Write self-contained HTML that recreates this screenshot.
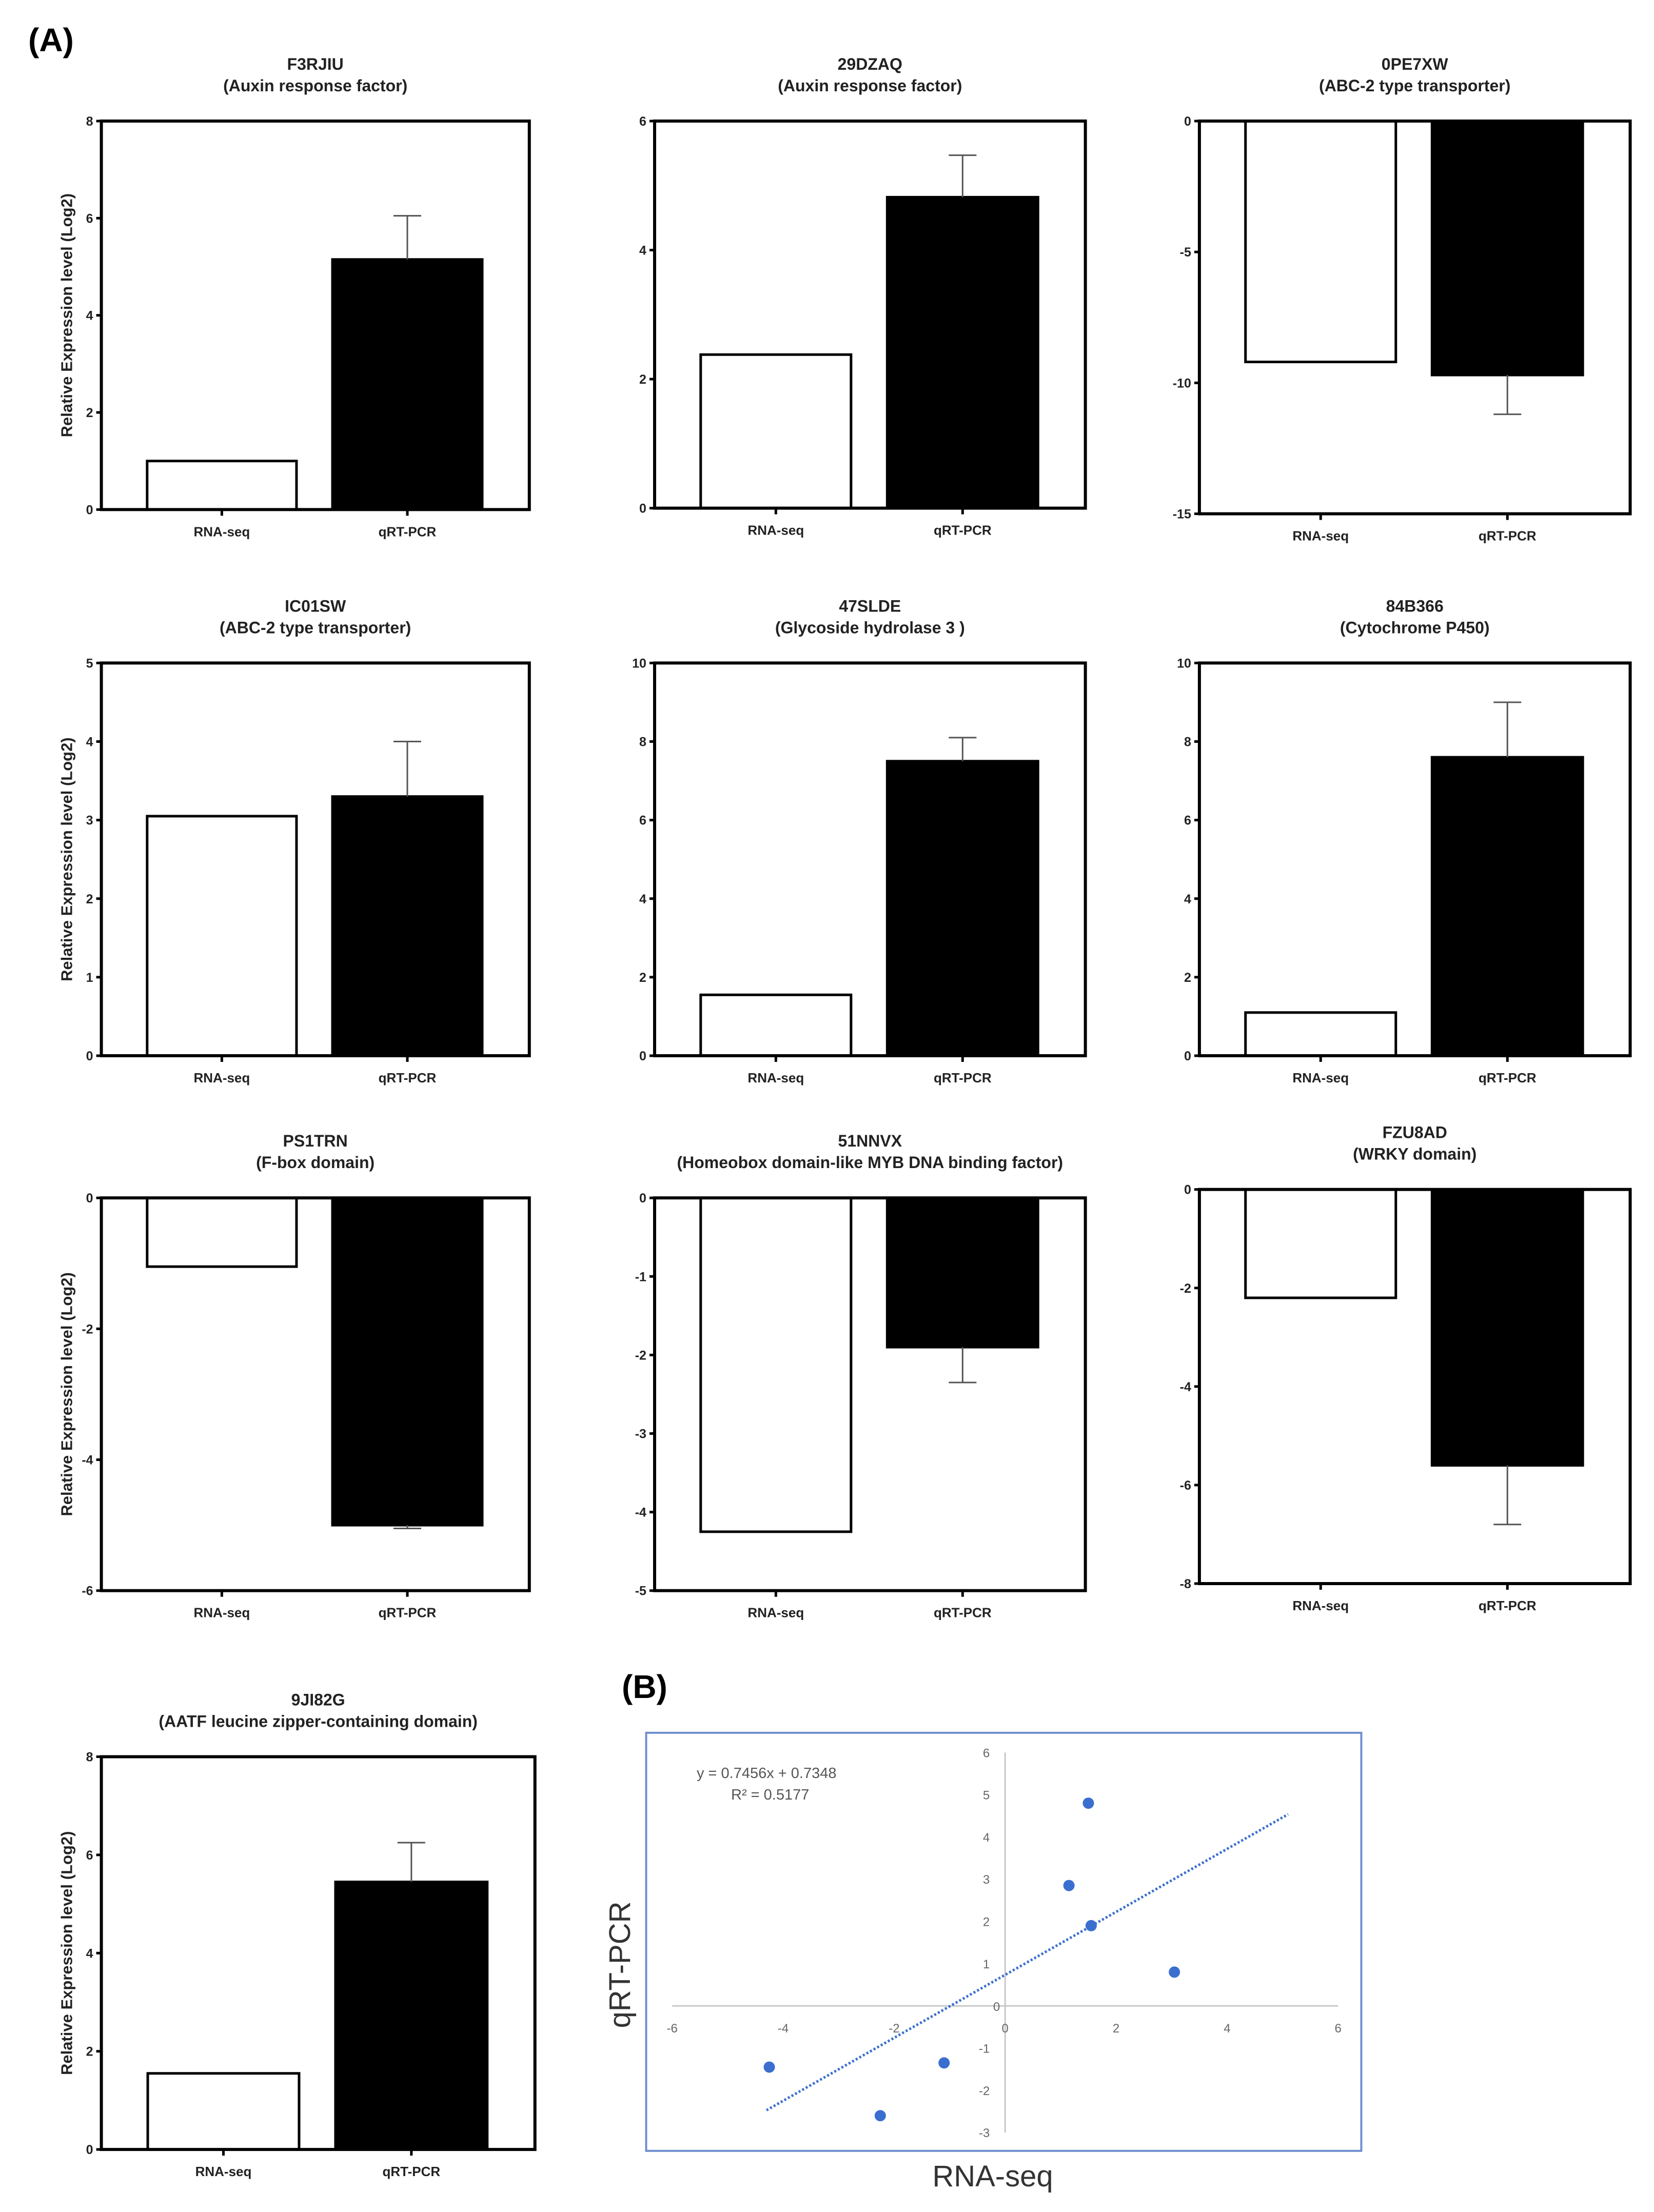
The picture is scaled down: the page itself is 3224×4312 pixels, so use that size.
<!DOCTYPE html>
<html><head><meta charset="utf-8"><style>
html,body{margin:0;padding:0;background:#fff;}
svg{display:block;font-family:"Liberation Sans",Arial,sans-serif;}
</style></head><body>
<svg id="fig" width="3224" height="4312" viewBox="0 0 3224 4312" xmlns="http://www.w3.org/2000/svg">
<rect width="3224" height="4312" fill="#fff"/>
<text x="55" y="100" font-size="64" font-weight="bold">(A)</text>
<text x="1212" y="3310" font-size="64" font-weight="bold">(B)</text>
<g id="bars"></g>
<g id="scatter"></g>
</svg>
<script>
const geneIds = ["F3RJIU","29DZAQ","0PE7XW","IC01SW","47SLDE","84B366","PS1TRN","51NNVX","FZU8AD","9JI82G"];
const geneDesc = ["(Auxin response factor)","(Auxin response factor)","(ABC-2 type transporter)","(ABC-2 type transporter)","(Glycoside hydrolase 3 )","(Cytochrome P450)","(F-box domain)","(Homeobox domain-like MYB  DNA binding factor)","(WRKY domain)","(AATF leucine zipper-containing domain)"];
const rnaSeq = [1.0, 2.38, -9.2, 3.05, 1.55, 1.1, -1.05, -4.25, -2.2, 1.55];
const qrtPcr = [5.15, 4.82, -9.7, 3.3, 7.5, 7.6, -5.0, -1.9, -5.6, 5.45];
const qrtErr = [0.9, 0.65, 1.5, 0.7, 0.6, 1.4, 0.05, 0.45, 1.2, 0.8];
const axisMin = [0, 0, -15, 0, 0, 0, -6, -5, -8, 0];
const axisMax = [8, 6, 0, 5, 10, 10, 0, 0, 0, 8];
const axisStep = [2, 2, 5, 1, 2, 2, 2, 1, 2, 2];
const categories = ["RNA-seq","qRT-PCR"];

const scatterX = [1.5, 1.15, 1.55, 3.05, -4.25, -1.1, -2.25];
const scatterY = [4.8, 2.85, 1.9, 0.8, -1.45, -1.35, -2.6];
const scatterXTicks = [-6,-4,-2,0,2,4,6];
const scatterYTicks = [-3,-2,-1,1,2,3,4,5,6];
const trendSlope = 0.7456, trendIntercept = 0.7348;
const trendRange = [-4.3, 5.1];

const NS = "http://www.w3.org/2000/svg";
function mk(tag, attrs, parent, txt){
  const e = document.createElementNS(NS, tag);
  for (const k in attrs) e.setAttribute(k, attrs[k]);
  if (txt !== undefined) e.textContent = txt;
  parent.appendChild(e); return e;
}
const S = 2.744;
const frames = [
 [72,86,376,362],[465,86,771,361],[852,86,1158,365],
 [72,471,376,750],[465,471,771,750],[852,471,1158,750],
 [72,851,376,1130],[465,851,771,1130],[852,845,1158,1125],
 [72,1248,380,1527]];
const barsG = document.getElementById('bars');
frames.forEach((f, i) => {
  const L=f[0]*S, T=f[1]*S, R=f[2]*S, B=f[3]*S, W=R-L, H=B-T;
  const g = mk('g', {}, barsG);
  
  
  const y = v => B - (v - axisMin[i]) / (axisMax[i] - axisMin[i]) * H;
  const cx = (L+R)/2;
  const t1 = mk('text', {x:cx, y:T-100, 'font-size':32, 'text-anchor':'middle', 'font-weight':'bold', fill:'#222'}, g, geneIds[i]);
  
  
  const t2 = mk('text', {x:cx, y:T-58, 'font-size':32, 'text-anchor':'middle', 'font-weight':'bold', fill:'#222'}, g, geneDesc[i]);
  
  
  // bars
  const vals = [rnaSeq[i], qrtPcr[i]];
  const x0s = [0.107, 0.54], x1s = [0.456, 0.89];
  const y0 = y(0);
  vals.forEach((v, k) => {
    const xa = L + x0s[k]*W, xb = L + x1s[k]*W;
    const ya = Math.min(y0, y(v)), yb = Math.max(y0, y(v));
    const r = mk('rect', {x:xa, y:ya, width:xb-xa, height:yb-ya, fill:k? '#000':'#fff', stroke:'#000', 'stroke-width':5}, g);
    
    
    const xl = mk('text', {x:(xa+xb)/2, y:B+52, 'font-size':26, 'text-anchor':'middle', 'font-weight':'bold', fill:'#222'}, g, categories[k]);
    
    
    mk('line', {x1:(xa+xb)/2, x2:(xa+xb)/2, y1:B, y2:B+12, stroke:'#000', 'stroke-width':5}, g);
  });
  // error bar
  const bc = L + (x0s[1]+x1s[1])/2*W;
  const sign = qrtPcr[i] >= 0 ? 1 : -1;
  const ye = y(qrtPcr[i] + sign*qrtErr[i]);
  const eb = mk('path', {d:`M${bc},${y(qrtPcr[i])}V${ye}M${bc-27},${ye}H${bc+27}`, stroke:'#555', 'stroke-width':3, fill:'none'}, g);
  
  
  // frame
  const fr = mk('rect', {x:L, y:T, width:W, height:H, fill:'none', stroke:'#000', 'stroke-width':6}, g);
  
  
  for (let v = axisMin[i]; v <= axisMax[i] + 1e-9; v += axisStep[i]) {
    mk('line', {x1:L-10, x2:L, y1:y(v), y2:y(v), stroke:'#000', 'stroke-width':5}, g);
    const tl = mk('text', {x:L-16, y:y(v)+9, 'font-size':25, 'text-anchor':'end', 'font-weight':'bold', fill:'#222'}, g, String(v));
    
    
  }
  if (i % 3 === 0) {
    const yl = mk('text', {x:0, y:0, 'font-size':31, 'text-anchor':'middle', 'font-weight':'bold', fill:'#222', transform:`translate(${L-57},${(T+B)/2}) rotate(-90)`}, g, 'Relative Expression level (Log2)');
    
    
  }
});

// scatter
const sg = document.getElementById('scatter');


const box = mk('rect', {x:459*S, y:1231*S, width:(967-459)*S, height:(1528-1231)*S, fill:'#fff', stroke:'#6f8fd0', 'stroke-width':4}, sg);


const X0 = 714*S, UX = 39.42*S, Y0 = 1425*S, UY = 30*S;
const sx = v => X0 + v*UX, sy = v => Y0 - v*UY;
mk('line', {x1:sx(-6), x2:sx(6), y1:sy(0), y2:sy(0), stroke:'#c8c8c8', 'stroke-width':3}, sg);
mk('line', {x1:sx(0), x2:sx(0), y1:sy(6), y2:sy(-3), stroke:'#c8c8c8', 'stroke-width':3}, sg);
scatterXTicks.forEach(v => {
  const t = mk('text', {x:sx(v), y:sy(0)+52, 'font-size':24, 'text-anchor':'middle', fill:'#666'}, sg, String(v));
  
  
});
mk('text', {x:sx(0)-10, y:sy(0)+10, 'font-size':24, 'text-anchor':'end', fill:'#666'}, sg, '0');
scatterYTicks.forEach(v => {
  const t = mk('text', {x:sx(0)-30, y:sy(v)+9, 'font-size':24, 'text-anchor':'end', fill:'#666'}, sg, String(v));
  
  
});
const tr = mk('line', {x1:sx(trendRange[0]), y1:sy(trendSlope*trendRange[0]+trendIntercept), x2:sx(trendRange[1]), y2:sy(trendSlope*trendRange[1]+trendIntercept), stroke:'#3a6fd0', 'stroke-width':5, 'stroke-dasharray':'4 4'}, sg);


scatterX.forEach((v, k) => {
  const c = mk('circle', {cx:sx(v), cy:sy(scatterY[k]), r:11, fill:'#3a6fd0'}, sg);
  
  
});
const eq = mk('text', {x:1358, y:3466, 'font-size':29, fill:'#555'}, sg, 'y = 0.7456x + 0.7348');


const r2 = mk('text', {x:1425, y:3508, 'font-size':29, fill:'#555'}, sg, 'R² = 0.5177');


const xt = mk('text', {x:1935, y:4262, 'font-size':58, 'text-anchor':'middle', fill:'#333'}, sg, 'RNA-seq');


const yt = mk('text', {x:0, y:0, 'font-size':58, 'text-anchor':'middle', fill:'#333', transform:'translate(1228,3830) rotate(-90)'}, sg, 'qRT-PCR');


</script>
</body></html>
